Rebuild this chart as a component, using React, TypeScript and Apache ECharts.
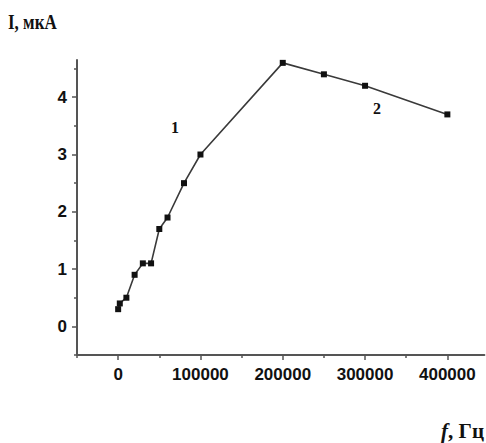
import React, { useEffect, useRef } from "react";
import * as echarts from "echarts";

const freqHz = [0, 2000, 10000, 20000, 30000, 40000, 50000, 60000, 80000, 100000, 200000, 250000, 300000, 400000];
const currentUA = [0.3, 0.4, 0.5, 0.9, 1.1, 1.1, 1.7, 1.9, 2.5, 3.0, 4.6, 4.4, 4.2, 3.7];
const xMajorTicks = [0, 100000, 200000, 300000, 400000];
const xMinorTicks = [-50000, 50000, 150000, 250000, 350000];
const yMajorTicks = [0, 1, 2, 3, 4];
const yMinorTicks = [-0.5, 0.5, 1.5, 2.5, 3.5, 4.5];
const yTitle = "I, мкА";
const xTitleItalic = "f";
const xTitleRest = ", Гц";
const curveLabels = ["1", "2"];

export default function App() {
  const ref = useRef<HTMLDivElement>(null);
  useEffect(() => {
    if (!ref.current) return;
    const chart = echarts.init(ref.current, null, { renderer: "svg" });
    const axisColor = "#555";
    const labelFont = {
      fontFamily: "Liberation Sans, Arial, sans-serif",
      fontWeight: "bold" as const,
      fontSize: 17,
      color: "#111",
    };
    const plain = (v: number) => String(v);
    const xMin = -50000, xMax = 445000, yMin = -0.5, yMax = 4.65;
    chart.setOption({
      animation: false,
      backgroundColor: "#fff",
      grid: { left: 77, right: 1.6, top: 60, bottom: 88, containLabel: false },
      xAxis: [
        {
          type: "value", min: xMin, max: xMax, position: "bottom",
          axisLine: { show: true, onZero: false, lineStyle: { color: axisColor, width: 2 } },
          axisTick: { show: true, customValues: xMajorTicks, length: 5, lineStyle: { color: axisColor, width: 1.5 } },
          axisLabel: { show: true, customValues: xMajorTicks, margin: 11, formatter: plain, ...labelFont },
          splitLine: { show: false },
        },
        {
          type: "value", min: xMin, max: xMax, position: "bottom", offset: 0,
          axisLine: { show: false, onZero: false },
          axisTick: { show: true, customValues: xMinorTicks, length: 3, lineStyle: { color: axisColor, width: 1.5 } },
          axisLabel: { show: false },
          splitLine: { show: false },
        },
      ],
      yAxis: [
        {
          type: "value", min: yMin, max: yMax, position: "left",
          axisLine: { show: true, onZero: false, lineStyle: { color: axisColor, width: 2 } },
          axisTick: { show: true, customValues: yMajorTicks, length: 5, lineStyle: { color: axisColor, width: 1.5 } },
          axisLabel: { show: true, customValues: yMajorTicks, margin: 10, formatter: plain, ...labelFont },
          splitLine: { show: false },
        },
        {
          type: "value", min: yMin, max: yMax, position: "left", offset: 0,
          axisLine: { show: false, onZero: false },
          axisTick: { show: true, customValues: yMinorTicks, length: 3, lineStyle: { color: axisColor, width: 1.5 } },
          axisLabel: { show: false },
          splitLine: { show: false },
        },
      ],
      series: [
        {
          type: "line",
          xAxisIndex: 0,
          yAxisIndex: 0,
          data: freqHz.map((f, i) => [f, currentUA[i]]),
          symbol: "rect",
          symbolSize: 6,
          itemStyle: { color: "#111" },
          lineStyle: { color: "#3a3a3a", width: 1.6 },
        },
      ],
      graphic: [
        {
          type: "text", left: 8, top: 12,
          style: {
            text: yTitle,
            font: "bold 20px 'Liberation Serif', 'Times New Roman', serif",
            fill: "#111",
          },
          scaleX: 0.85,
        },
        {
          type: "text", right: 2, top: 420,
          style: {
            text: `{i|${xTitleItalic}}{n|${xTitleRest}}`,
            rich: {
              i: { fontFamily: "Liberation Serif", fontStyle: "italic", fontWeight: "bold", fontSize: 21, fill: "#111" },
              n: { fontFamily: "Liberation Serif", fontWeight: "bold", fontSize: 21, fill: "#111" },
            },
          },
        },
        {
          type: "text", x: 175, y: 127,
          style: {
            text: curveLabels[0], align: "center", verticalAlign: "middle",
            font: "bold 16px 'Liberation Serif', serif", fill: "#111",
          },
        },
        {
          type: "text", x: 377, y: 108,
          style: {
            text: curveLabels[1], align: "center", verticalAlign: "middle",
            font: "bold 16px 'Liberation Serif', serif", fill: "#111",
          },
        },
      ],
    });
    return () => chart.dispose();
  }, []);
  return (
    <div
      ref={ref}
      style={{ position: "fixed", left: 0, top: 0, width: 486, height: 443, background: "#fff" }}
    />
  );
}
